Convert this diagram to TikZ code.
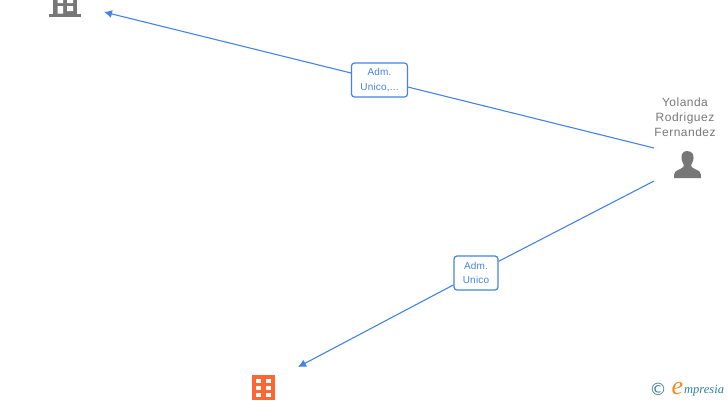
\documentclass[tikz,border=0pt]{standalone}
\usepackage{fontspec}
\setmainfont{Liberation Sans}
\newfontfamily\persf[LetterSpace=4]{Liberation Sans}
\newfontfamily\labf[LetterSpace=2]{Liberation Sans}
\newfontfamily\logof{Liberation Serif}
\newfontfamily\copyf{DejaVu Sans}
\definecolor{edgeblue}{HTML}{4483E2}
\definecolor{icongray}{HTML}{777777}
\definecolor{iconorange}{HTML}{FF6633}
\definecolor{logoteal}{HTML}{3F7F93}
\definecolor{logoorange}{HTML}{F28C1E}
\definecolor{logoblue}{HTML}{2F7F9F}
\tikzset{
  x=1pt,y=-1pt,
  edge/.style={draw=edgeblue,line width=1.1pt},
  arrowedge/.style={edge,-{Latex[length=8pt,width=8pt]}},
  edgelabel/.style={draw=edgeblue,fill=white,rounded corners=3pt,line width=1.2pt,inner sep=0pt,
    align=center,text=edgeblue,font=\labf\fontsize{10}{14.8}\selectfont},
  persontext/.style={text=icongray,align=center,inner sep=0pt,font=\persf\fontsize{12}{15.2}\selectfont},
}
\usetikzlibrary{arrows.meta}
\begin{document}
\begin{tikzpicture}
\useasboundingbox (0,0) rectangle (728,400);
% gray building icon
\fill[icongray] (53,0) rectangle (77,14);
\fill[icongray] (49,13.5) rectangle (81,16.5);
\fill[white] (57.5,-1) rectangle (63,3) (67,-1) rectangle (73,3);
\fill[white] (57.5,6) rectangle (63,13.5) (67,6) rectangle (73,11);
\coordinate (grayb) at (104,12);
% orange building icon
\fill[iconorange] (252,375) rectangle (274.5,400);
\foreach \yy in {379,386,393}{
  \fill[white] (255.5,\yy) rectangle (260.5,\yy+4);
  \fill[white] (265.5,\yy) rectangle (270.5,\yy+4);
}
\coordinate (orangeb) at (298,367);
% person
\node[persontext] (person) at (685,117) {Yolanda\\Rodriguez\\Fernandez};
\fill[icongray] (687,151) .. controls (682.5,151) and (681,155) .. (681.5,158.5)
  .. controls (682,162) and (683.5,164) .. (684,165.5)
  .. controls (684,168) and (678,169.5) .. (675.5,171.5)
  .. controls (674.2,172.8) and (674,175) .. (674,178) -- (701,178)
  .. controls (701,175) and (700.8,172.8) .. (699.5,171.5)
  .. controls (697,169.5) and (691,168) .. (691,165.5)
  .. controls (691.5,164) and (693,162) .. (693.5,158.5)
  .. controls (694,155) and (692.5,151) .. (687,151) -- cycle;
\coordinate (pa) at (654,148);
\coordinate (pb) at (654,181);
% edge labels
\node[edgelabel,minimum width=56pt,minimum height=34pt] (lab1) at (379.5,80) {Adm.\\Unico,...};
\node[edgelabel,minimum width=44pt,minimum height=34pt] (lab2) at (476,273) {Adm.\\Unico};
% connectors
\draw[edge] (pa) -- (lab1);
\draw[arrowedge] (lab1) -- (grayb);
\draw[edge] (pb) -- (lab2);
\draw[arrowedge] (lab2) -- (orangeb);
% logo
\node[inner sep=0pt,text=logoteal,font=\copyf\fontsize{17}{17}\selectfont] (copyr) at (658,389) {©};
\node[inner sep=0pt,text=logoorange,font=\logof\itshape\fontsize{26}{26}\selectfont] (elogo) at (677.5,388.5) {e};
\node[inner sep=0pt,anchor=west,text=logoblue,font=\logof\itshape\fontsize{12.5}{12.5}\selectfont] (mpresia) at (684,390.5) {mpresia};
\end{tikzpicture}
\end{document}
